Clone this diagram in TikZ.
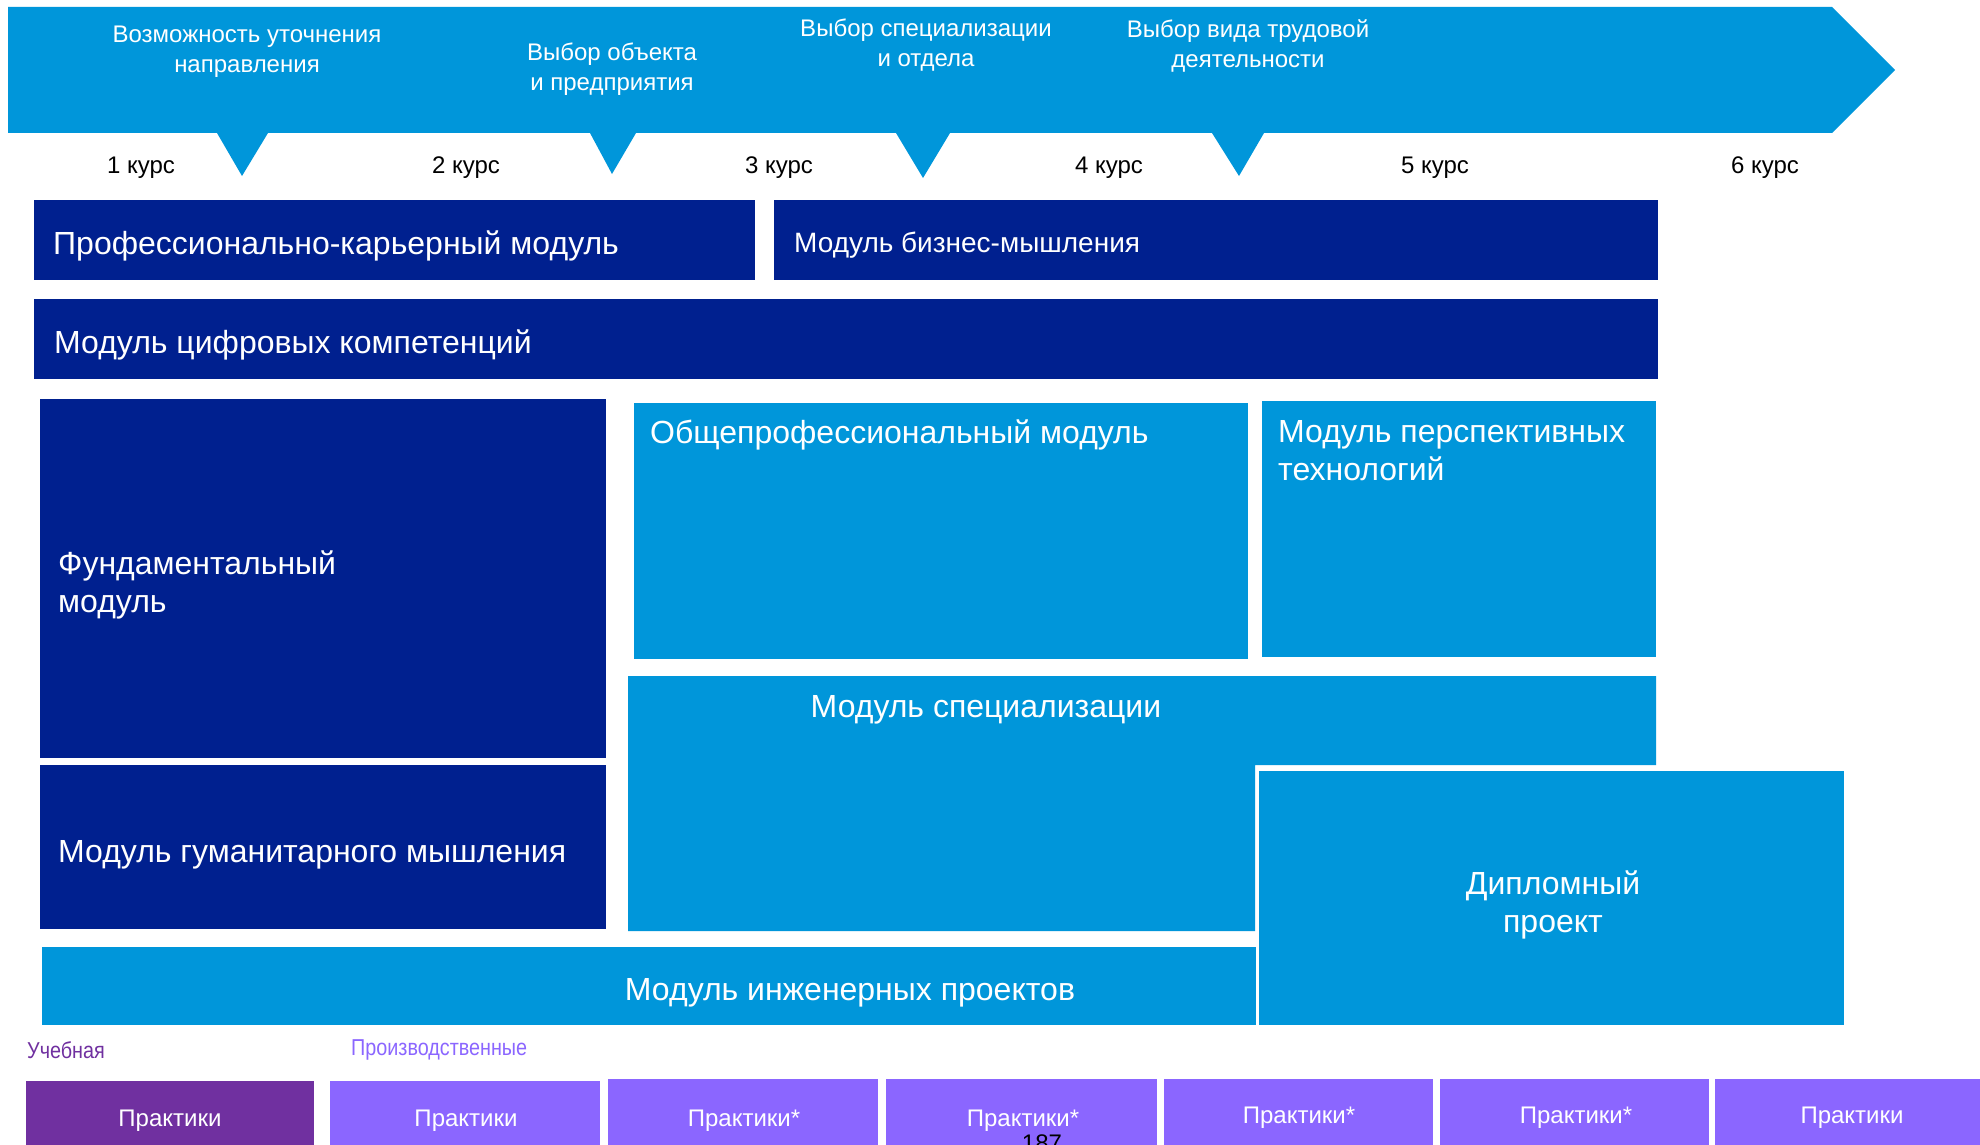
\documentclass[tikz,border=0pt]{standalone}
\usepackage{fontspec}
\setmainfont{Liberation Sans}
\newfontfamily\condfont[FakeStretch=0.86]{Liberation Sans}
\definecolor{navy}{HTML}{00208F}
\definecolor{lblue}{HTML}{0096DA}
\definecolor{dpurple}{HTML}{7030A0}
\definecolor{lpurple}{HTML}{8B66FF}
\tikzset{
  darkbox/.style={fill=navy, draw=none},
  lightbox/.style={fill=lblue, draw=none},
  pbox/.style={fill=lpurple, draw=none},
  bigtxt/.style={text=white, font=\fontsize{32}{38}\selectfont, inner sep=0pt, align=left},
  midtxt/.style={text=white, font=\fontsize{28}{32}\selectfont, inner sep=0pt, align=left},
  arrtxt/.style={text=white, font=\fontsize{24}{30}\selectfont, inner sep=0pt, align=center},
  kurs/.style={text=black, font=\fontsize{24}{28}\selectfont, inner sep=0pt},
  ptxt/.style={text=white, font=\fontsize{24}{28}\selectfont, inner sep=0pt},
  smalltxt/.style={font=\condfont\fontsize{23}{26}\selectfont, inner sep=0pt, anchor=west},
}
\begin{document}
\begin{tikzpicture}[x=1pt,y=-1pt]
\useasboundingbox (0,0) rectangle (1980,1145);
\fill[white] (0,0) rectangle (1980,1145);
% top arrow
\fill[lblue] (8,7) -- (1832,7) -- (1895,70) -- (1832,133)
  -- (1264,133) -- (1239,176) -- (1212,133)
  -- (950,133) -- (923,178) -- (896,133)
  -- (636,133) -- (612,174) -- (590,133)
  -- (268,133) -- (242,176) -- (217,133)
  -- (8,133) -- cycle;
\node[arrtxt] (a1) at (247,52) {Возможность уточнения\\направления};
\node[arrtxt] (a2) at (612,69) {Выбор объекта\\и предприятия};
\node[arrtxt] (a3) at (926,45) {Выбор специализации\\и отдела};
\node[arrtxt] (a4) at (1248,46) {Выбор вида трудовой\\деятельности};
% courses
\node[kurs] (k1) at (141,168) {1 курс};
\node[kurs] (k2) at (466,168) {2 курс};
\node[kurs] (k3) at (779,168) {3 курс};
\node[kurs] (k4) at (1109,168) {4 курс};
\node[kurs] (k5) at (1435,168) {5 курс};
\node[kurs] (k6) at (1765,168) {6 курс};
% dark modules
\path[darkbox] (34,200) rectangle (755,280);
\node[bigtxt, anchor=west] (prof) at (53,246) {Профессионально-карьерный модуль};
\path[darkbox] (774,200) rectangle (1658,280);
\node[midtxt, anchor=west] (biz) at (794,245) {Модуль бизнес-мышления};
\path[darkbox] (34,299) rectangle (1658,379);
\node[bigtxt, anchor=west] (dig) at (54,345) {Модуль цифровых компетенций};
\path[darkbox] (40,399) rectangle (606,758);
\node[bigtxt, anchor=west] (fund) at (58,585) {Фундаментальный\\модуль};
\path[darkbox] (40,765) rectangle (606,929);
\node[bigtxt, anchor=west] (hum) at (58,855) {Модуль гуманитарного мышления};
% light modules
\path[lightbox] (634,403) rectangle (1248,659);
\node[bigtxt, anchor=west] (gen) at (650,435) {Общепрофессиональный модуль};
\path[lightbox] (1262,401) rectangle (1656,657);
\node[bigtxt, anchor=west] (persp) at (1278,451) {Модуль перспективных\\технологий};
\path[lightbox] (628,676) -- (1656,676) -- (1656,765) -- (1255,765) -- (1255,931) -- (628,931) -- cycle;
\node[bigtxt] (spec) at (986,710) {Модуль специализации};
\path[lightbox] (42,947) rectangle (1256,1025);
\node[bigtxt] (eng) at (850,993) {Модуль инженерных проектов};
\path[lightbox] (1259,771) rectangle (1844,1025);
\node[bigtxt, align=center] (dipl) at (1553,905) {Дипломный\\проект};
% practices
\node[smalltxt, text=dpurple] (ucheb) at (27,1050) {Учебная};
\node[smalltxt, text=lpurple] (proizv) at (351,1050) {Производственные};
\path[fill=dpurple] (26,1081) rectangle (314,1160);
\path[pbox] (330,1081) rectangle (600,1160);
\path[pbox] (608,1079) rectangle (878,1160);
\path[pbox] (886,1079) rectangle (1157,1160);
\path[pbox] (1164,1079) rectangle (1433,1160);
\path[pbox] (1440,1079) rectangle (1709,1160);
\path[pbox] (1715,1079) rectangle (1990,1160);
\node[ptxt] (p1) at (170,1121) {Практики};
\node[ptxt] (p2) at (466,1121) {Практики};
\node[ptxt] (p3) at (744,1121) {Практики*};
\node[ptxt] (p4) at (1023,1121) {Практики*};
\node[ptxt] (p5) at (1299,1118) {Практики*};
\node[ptxt] (p6) at (1576,1118) {Практики*};
\node[ptxt] (p7) at (1852,1118) {Практики};
\node[kurs, anchor=north] (pg) at (1042,1135) {187};
\end{tikzpicture}
\end{document}
